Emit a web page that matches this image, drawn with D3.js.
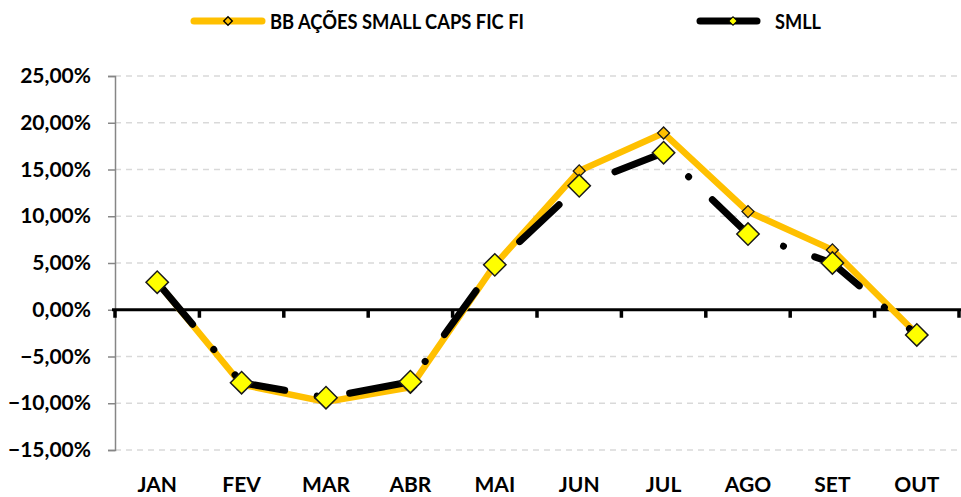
<!DOCTYPE html>
<html>
<head>
<meta charset="utf-8">
<script src="https://cdn.jsdelivr.net/npm/d3@7"></script>
<style>
  body { margin: 0; background: #fff; }
  svg { display: block; font-family: Lato, "Open Sans", sans-serif; font-weight: bold; }
</style>
</head>
<body>
<svg id="chart"></svg>
<script>
let w = 961
let h = 497

// monthly returns (%)
let months = ["JAN", "FEV", "MAR", "ABR", "MAI", "JUN", "JUL", "AGO", "SET", "OUT"]
let bbValues = [2.95, -8.0, -9.85, -8.3, 4.8, 14.85, 18.9, 10.5, 6.4, -2.6]
let smllValues = [2.95, -7.8, -9.4, -7.7, 4.8, 13.25, 16.8, 8.1, 5.0, -2.7]
let yTicks = [-15, -10, -5, 0, 5, 10, 15, 20, 25]
let seriesNames = ["BB AÇÕES SMALL CAPS FIC FI", "SMLL"]

let svg = d3.select("#chart").attr("width", w).attr("height", h)

let x = d3.scaleBand().domain(months).range([115, 959]).padding(0)
let y = d3.scaleLinear().domain([-15, 25]).range([450, 76])

let fmt = v => d3.format(".2f")(v).replace(".", ",") + "%"
let cx = (i) => x(months[i]) + x.bandwidth() / 2

// gridlines
svg.append("g").selectAll("line")
  .data(yTicks.filter(t => t !== 0))
  .join("line")
  .attr("x1", 115).attr("x2", w)
  .attr("y1", d => y(d)).attr("y2", d => y(d))
  .attr("stroke", "#d9d9d9").attr("stroke-width", 1.5)
  .attr("stroke-dasharray", "6,5")

// y axis
let yAxis = svg.append("g")
  .attr("transform", "translate(115,0)")
  .call(d3.axisLeft(y).tickValues(yTicks).tickSize(7).tickPadding(17).tickFormat(fmt))
yAxis.select(".domain").attr("stroke", "#868686").attr("stroke-width", 1.5)
yAxis.selectAll(".tick line").attr("stroke", "#868686").attr("stroke-width", 1.5)
yAxis.selectAll("text").attr("font-size", 21).attr("fill", "#000")
  .attr("font-family", "Lato, sans-serif").attr("font-weight", "bold")

// zero axis with category ticks
let xAxis = svg.append("g")
  .attr("transform", "translate(0," + y(0) + ")")
xAxis.append("line")
  .attr("x1", 112).attr("x2", w)
  .attr("stroke", "#000").attr("stroke-width", 3)
xAxis.selectAll(".cat-tick")
  .data(months.concat(["_end"]))
  .join("line")
  .attr("class", "cat-tick")
  .attr("x1", (d, i) => 115 + i * x.step())
  .attr("x2", (d, i) => 115 + i * x.step())
  .attr("y1", 0).attr("y2", 8)
  .attr("stroke", "#000").attr("stroke-width", 3.5)

// category labels
svg.append("g").selectAll("text")
  .data(months)
  .join("text")
  .attr("x", d => x(d) + x.bandwidth() / 2)
  .attr("y", 492)
  .attr("text-anchor", "middle")
  .attr("font-size", 21)
  .text(d => d)

let line = d3.line()
  .x((d, i) => cx(i))
  .y(d => y(d))

// BB line
svg.append("path")
  .datum(bbValues)
  .attr("d", line)
  .attr("fill", "none")
  .attr("stroke", "#ffc000")
  .attr("stroke-width", 6.5)
  .attr("stroke-linejoin", "round")

svg.append("g").selectAll("path")
  .data(bbValues)
  .join("path")
  .attr("transform", (d, i) => "translate(" + cx(i) + "," + y(d) + ") rotate(45)")
  .attr("d", d3.symbol().type(d3.symbolSquare).size(72))
  .attr("fill", "#ffc000")
  .attr("stroke", "#1a1a1a")
  .attr("stroke-width", 1.3)

// SMLL line (long dash dot)
svg.append("path")
  .datum(smllValues)
  .attr("d", line)
  .attr("fill", "none")
  .attr("stroke", "#000")
  .attr("stroke-width", 7)
  .attr("stroke-linecap", "round")
  .attr("stroke-linejoin", "round")
  .attr("stroke-dasharray", "54,33,0.01,33")
  .attr("stroke-dashoffset", -1)

svg.append("g").selectAll("path")
  .data(smllValues)
  .join("path")
  .attr("transform", (d, i) => "translate(" + cx(i) + "," + y(d) + ") rotate(45)")
  .attr("d", d3.symbol().type(d3.symbolSquare).size(250))
  .attr("fill", "#ffff00")
  .attr("stroke", "#1a1a1a")
  .attr("stroke-width", 1.5)

// legend
let legend = svg.append("g").attr("font-size", 21)

legend.append("line")
  .attr("x1", 194).attr("x2", 262).attr("y1", 21).attr("y2", 21)
  .attr("stroke", "#ffc000").attr("stroke-width", 7).attr("stroke-linecap", "round")
legend.append("path")
  .attr("transform", "translate(228,21) rotate(45)")
  .attr("d", d3.symbol().type(d3.symbolSquare).size(36))
  .attr("fill", "#ffc000").attr("stroke", "#000").attr("stroke-width", 1.4)
legend.append("text")
  .attr("x", 270).attr("y", 28.5)
  .attr("textLength", 254).attr("lengthAdjust", "spacingAndGlyphs")
  .text(seriesNames[0])

legend.append("line")
  .attr("x1", 700).attr("x2", 757).attr("y1", 21).attr("y2", 21)
  .attr("stroke", "#000").attr("stroke-width", 7).attr("stroke-linecap", "round")
legend.append("path")
  .attr("transform", "translate(733,21) rotate(45)")
  .attr("d", d3.symbol().type(d3.symbolSquare).size(36))
  .attr("fill", "#ffff00").attr("stroke", "#000").attr("stroke-width", 1)
legend.append("text")
  .attr("x", 775).attr("y", 28.5)
  .attr("textLength", 46).attr("lengthAdjust", "spacingAndGlyphs")
  .text(seriesNames[1])
</script>
</body>
</html>
